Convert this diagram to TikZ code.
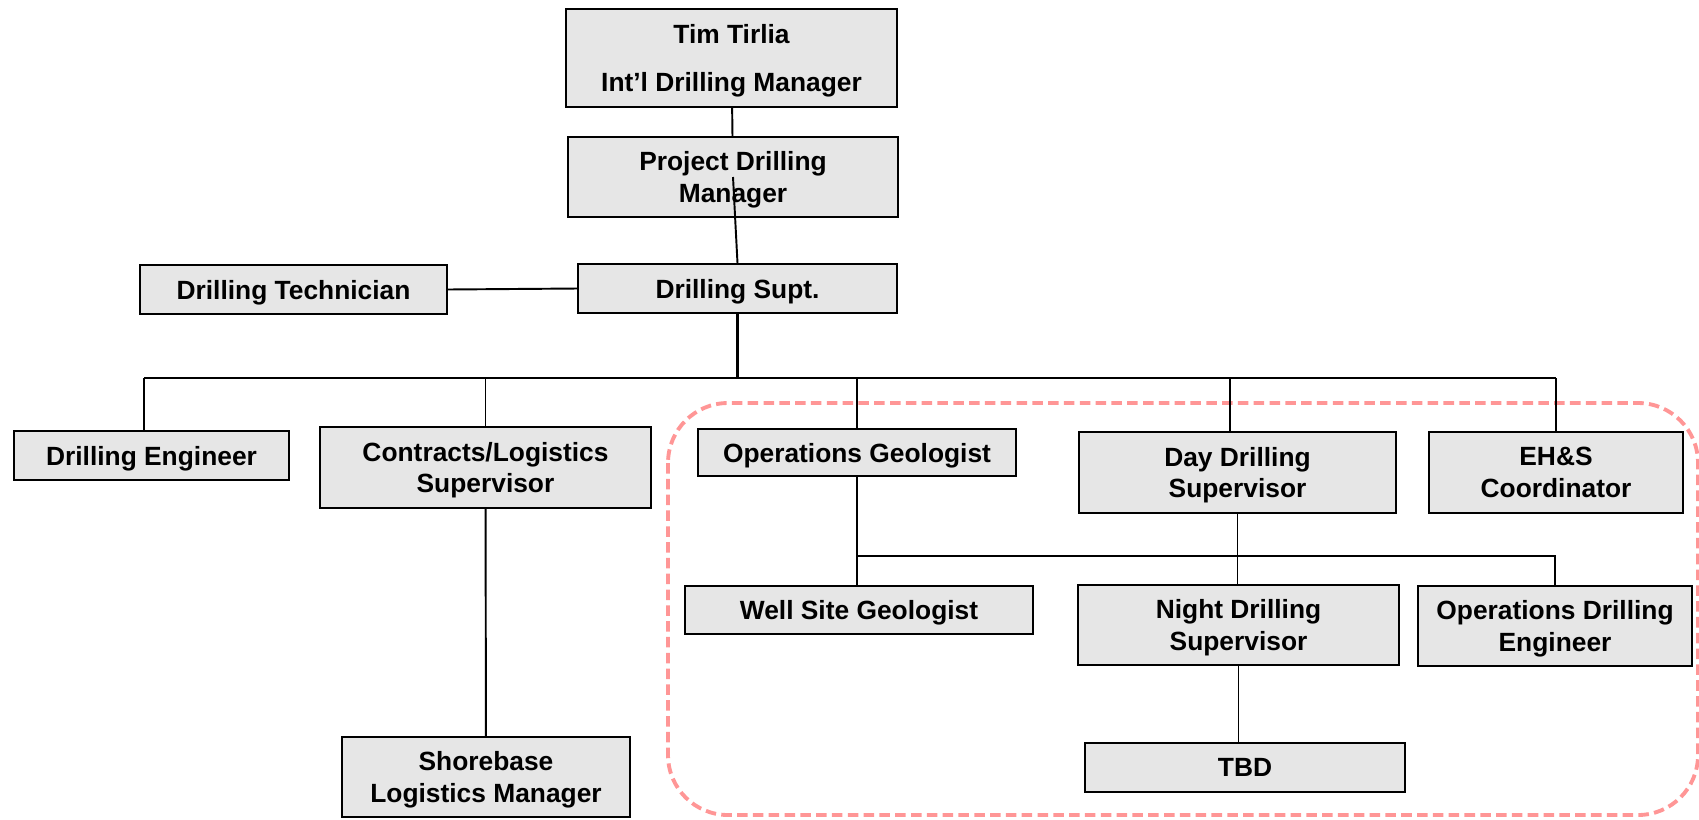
\documentclass[tikz,border=0pt]{standalone}
\usepackage{fontspec}
\setmainfont{Liberation Sans}
\usepackage{tikz}

\definecolor{boxgray}{RGB}{230,230,230}
\definecolor{teamred}{RGB}{255,150,150}

\begin{document}
\begin{tikzpicture}[x=0.02cm,y=-0.02cm,
  box/.style={draw,fill=boxgray,line width=0.85pt,inner sep=0pt,align=center,text depth=0pt,
    font=\fontsize{15}{18}\selectfont\bfseries},
  link/.style={line width=1.1pt}]
\useasboundingbox (0,0) rectangle (1699,819);

% team frame
\draw[teamred,line width=2.2pt,dash pattern=on 6pt off 3pt,rounded corners=1.2cm]
  (668,403) rectangle (1698,815);

\node[box,minimum width=6.62cm,minimum height=1.96cm] (T) at (731.5,58) {Tim Tirlia\\[9pt]Int’l Drilling Manager};
\node[box,minimum width=6.60cm,minimum height=1.60cm] (P) at (733,177) {Project Drilling\\Manager};
\node[box,minimum width=6.38cm,minimum height=0.98cm] (S) at (737.5,288.5) {Drilling Supt.};
\node[box,minimum width=6.14cm,minimum height=0.98cm] (DT) at (293.5,289.5) {Drilling Technician};

\node[box,minimum width=5.50cm,minimum height=0.98cm] (DE) at (151.5,455.5) {Drilling Engineer};
\node[box,minimum width=6.62cm,minimum height=1.62cm] (CL) at (485.5,467.5) {Contracts/Logistics\\Supervisor};
\node[box,minimum width=5.76cm,minimum height=1.60cm] (SL) at (486,777) {Shorebase\\Logistics Manager};

\node[box,minimum width=6.36cm,minimum height=0.94cm] (OG) at (857,452.5) {Operations Geologist};
\node[box,minimum width=6.34cm,minimum height=1.62cm] (DD) at (1237.5,472.5) {Day Drilling\\Supervisor};
\node[box,minimum width=5.08cm,minimum height=1.62cm] (EH) at (1556,472.5) {EH\&S\\Coordinator};

\node[box,minimum width=6.96cm,minimum height=0.96cm] (WG) at (859,610) {Well Site Geologist};
\node[box,minimum width=6.42cm,minimum height=1.60cm] (ND) at (1238.5,625) {Night Drilling\\Supervisor};
\node[box,minimum width=5.48cm,minimum height=1.60cm] (OD) at (1555,626) {Operations Drilling\\Engineer};
\node[box,minimum width=6.40cm,minimum height=0.98cm] (TB) at (1245,767.5) {TBD};

\coordinate (busL) at (144,378);
\coordinate (busR) at (1556,378);
\coordinate (bus2) at (858,556);

\draw[link] (T) -- (P);
\draw[link] (P.center) -- (S.north);
\draw[link] (DT.east) -- (S.west);
\draw[link,line width=1.4pt] (S.south) -- (S.south |- busL);
\draw[link] (busL) -- (busR);
\draw[link] (busL) -- (busL |- DE.north);
\foreach \n in {CL,OG,EH}
  \draw[link] (\n.north) -- (\n.north |- busL);
\draw[link] ([xshift=-0.15cm]DD.north) -- ([xshift=-0.15cm]DD.north |- busL);
\draw[link] (CL) -- (SL);
\draw[link] (OG.south) -- (OG.south |- WG.north);
\draw[link] (bus2) -| (OD.north);
\draw[link] (DD) -- (DD.south |- ND.north);
\draw[link] (ND.south) -- (ND.south |- TB.north);
\end{tikzpicture}
\end{document}
